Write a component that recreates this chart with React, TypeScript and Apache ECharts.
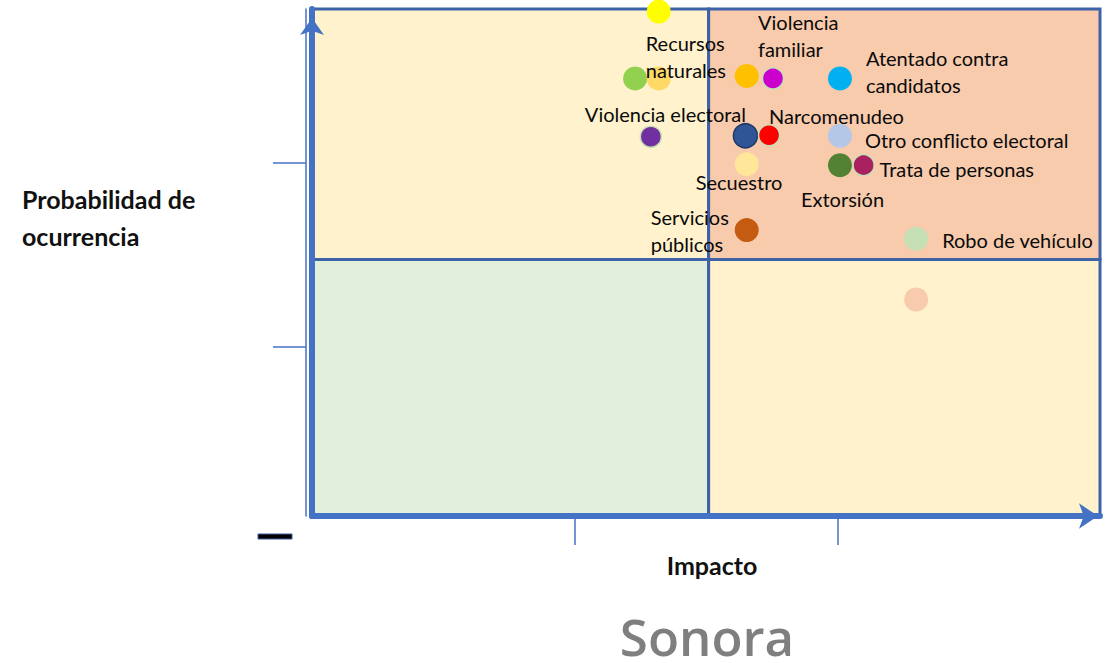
import React, { useEffect, useRef } from "react";
import * as echarts from "echarts";

// ---- Data ----
const riskNames: string[] = [
  "",
  "",
  "Recursos\nnaturales",
  "",
  "Violencia\nfamiliar",
  "Atentado contra\ncandidatos",
  "Violencia electoral",
  "",
  "Narcomenudeo",
  "Otro conflicto electoral",
  "Secuestro",
  "Extorsión",
  "Trata de personas",
  "Servicios\npúblicos",
  "Robo de vehículo",
  "",
];
const impactValues: number[] = [1.32, 1.23, 1.32, 1.655, 1.755, 2.01, 1.29, 1.65, 1.74, 2.01, 1.655, 2.01, 2.1, 1.655, 2.3, 2.3];
const probabilityValues: number[] = [99.5, 86.3, 86.3, 86.8, 86.3, 86.3, 74.8, 75.0, 75.1, 75.0, 69.4, 69.2, 69.2, 56.4, 54.7, 42.7];

const impactTicks: number[] = [1, 2];
const probabilityTicks: number[] = [33.3, 69.6];
const impactSplit = 1.51;
const probabilitySplit = 50.6;

// ---- Styles ----
const pointColors: string[] = [
  "#FFFF00", "#92D050", "#FFD966", "#FFC000", "#CC00CC", "#00B0F0", "#7030A0", "#2F5597",
  "#FF0000", "#B4C7E7", "#FFE699", "#548235", "#A9215F", "#C55A11", "#C5E0B4", "#F8CBAD",
];
const outlined = new Set([4, 6, 8, 12]);
const labelPlacement: Record<number, [number, number]> = {
  2: [-13, -22],
  4: [-15, -43],
  5: [26, -7],
  6: [-66, -23],
  8: [0, -19],
  9: [25, 4],
  10: [-51, 18],
  11: [-39, 34],
  12: [16, 4],
  13: [-96, 0],
  14: [26, 1],
};

const FONT = "Lato, 'Noto Sans', sans-serif";

export default function App() {
  const ref = useRef<HTMLDivElement>(null);
  useEffect(() => {
    if (!ref.current) return;
    const chart = echarts.init(ref.current, null, { renderer: "svg" });

    const points = riskNames.map((name, i) => {
      const off = labelPlacement[i];
      const isOut = outlined.has(i);
      return {
        name,
        value: [impactValues[i], probabilityValues[i]],
        symbolSize: isOut ? 21 : 24,
        itemStyle: {
          color: pointColors[i],
          borderColor: isOut ? "#C5E0B4" : i === 7 ? "#1F3864" : pointColors[i],
          borderWidth: isOut || i === 7 ? 1.5 : 0,
          opacity: 1,
        },
        label: off
          ? {
              show: true,
              formatter: name,
              position: "inside",
              align: "left",
              verticalAlign: "middle",
              offset: off,
              color: "#0a0a0a",
              fontFamily: FONT,
              fontSize: 20,
              lineHeight: 27,
            }
          : { show: false },
      };
    });

    const quad = (x0: number, y0: number, x1: number, y1: number, color: string) => [
      { xAxis: x0, yAxis: y0, itemStyle: { color } },
      { xAxis: x1, yAxis: y1 },
    ];

    chart.setOption({
      animation: false,
      backgroundColor: "#ffffff",
      grid: { left: 312, right: 9, top: 9, bottom: 147 },
      xAxis: {
        type: "value",
        min: 0,
        max: 3,
        z: 10,
        axisLine: {
          show: true,
          symbol: ["none", "arrow"],
          symbolSize: [19, 19],
          symbolOffset: [0, -2],
          lineStyle: { color: "#4472C4", width: 6 },
        },
        axisTick: {
          show: true,
          customValues: impactTicks,
          length: 29,
          lineStyle: { color: "#4472C4", width: 1.5 },
        },
        axisLabel: { show: false },
        splitLine: { show: false },
      },
      yAxis: [
        {
          type: "value",
          min: 0,
          max: 100,
          z: 10,
          axisLine: {
            show: true,
            symbol: ["none", "arrow"],
            symbolSize: [18, 17],
            symbolOffset: [0, -9],
            lineStyle: { color: "#4472C4", width: 6 },
          },
          axisTick: { show: false },
          axisLabel: { show: false },
          splitLine: { show: false },
        },
        {
          type: "value",
          min: 0,
          max: 100,
          position: "left",
          offset: 6,
          z: 9,
          axisLine: { show: true, lineStyle: { color: "#4472C4", width: 1.5 } },
          axisTick: {
            show: true,
            customValues: probabilityTicks,
            length: 33,
            lineStyle: { color: "#4472C4", width: 1.5 },
          },
          axisLabel: { show: false },
          splitLine: { show: false },
        },
      ],
      graphic: [
        {
          type: "text",
          x: 22,
          y: 217,
          style: {
            text: "Probabilidad de\nocurrencia",
            fill: "#111111",
            font: `bold 25px ${FONT}`,
            lineHeight: 37,
            align: "left",
            verticalAlign: "middle",
          },
        },
        {
          type: "text",
          x: 712,
          y: 565,
          style: {
            text: "Impacto",
            fill: "#111111",
            font: `bold 25px ${FONT}`,
            align: "center",
            verticalAlign: "middle",
          },
        },
        {
          type: "text",
          x: 707,
          y: 636,
          style: {
            text: "Sonora",
            fill: "#7F7F7F",
            font: `600 51px 'Open Sans', sans-serif`,
            lineHeight: 42,
            align: "center",
            verticalAlign: "middle",
          },
        },
        {
          type: "rect",
          shape: { x: 258, y: 534, width: 34, height: 5 },
          style: { fill: "#000000", stroke: "#3A5A9A", lineWidth: 1 },
        },
      ],
      series: [
        {
          type: "scatter",
          silent: true,
          data: [],
          markArea: {
            silent: true,
            itemStyle: { borderColor: "#3E62A8", borderWidth: 3 },
            data: [
              quad(0, probabilitySplit, impactSplit, 100, "#FFF2CC"),
              quad(impactSplit, probabilitySplit, 3, 100, "#F8CBAD"),
              quad(0, 0, impactSplit, probabilitySplit, "#E2EFDA"),
              quad(impactSplit, 0, 3, probabilitySplit, "#FFF2CC"),
            ],
          },
        },
        {
          type: "scatter",
          z: 5,
          symbol: "circle",
          data: points,
          emphasis: { disabled: true },
        },
      ],
    });
    return () => chart.dispose();
  }, []);
  return (
    <div
      ref={ref}
      style={{ position: "fixed", left: 0, top: 0, width: 1109, height: 663, background: "#fff" }}
    />
  );
}
